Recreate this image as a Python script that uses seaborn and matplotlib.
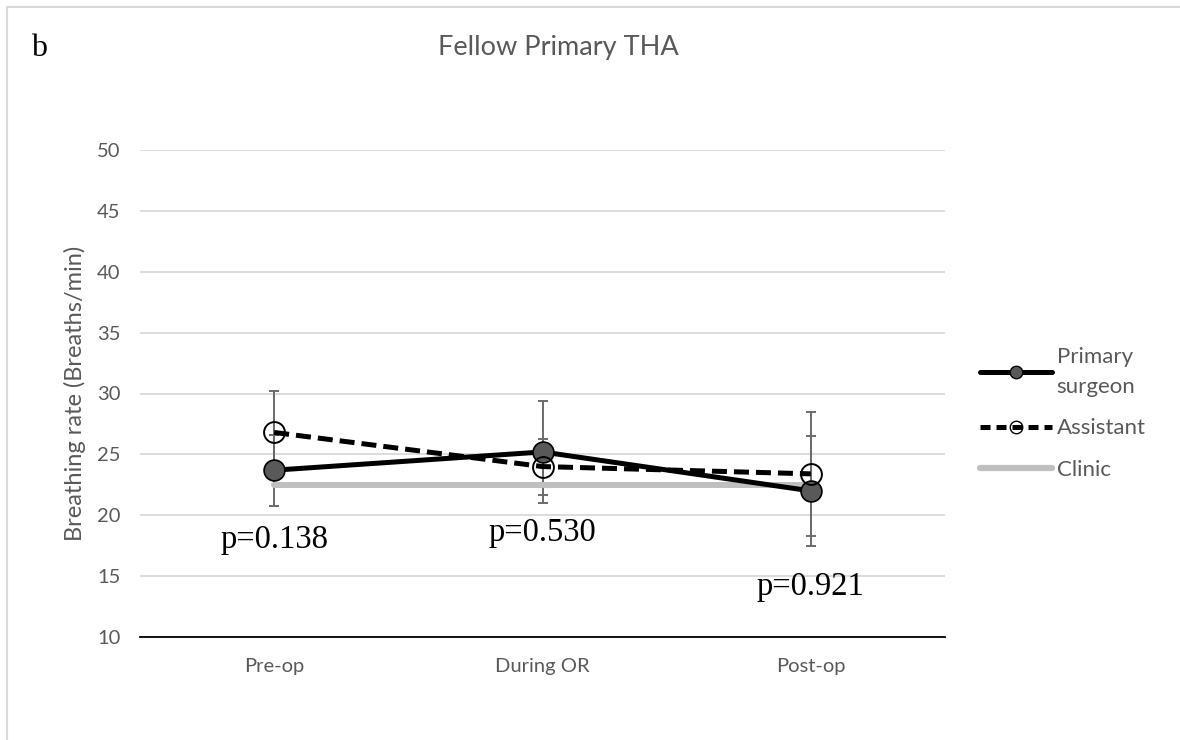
import numpy as np
import pandas as pd
import matplotlib
matplotlib.use('Agg')
import matplotlib.pyplot as plt
import seaborn as sns
from matplotlib.lines import Line2D

# values
phases = ['Pre-op', 'During OR', 'Post-op']
primary_mean = [23.7, 25.2, 22.0]
primary_err = [2.9, 4.2, 4.5]
assistant_mean = [26.8, 24.0, 23.4]
assistant_err = [3.4, 2.3, 5.1]
clinic_mean = [22.5, 22.5, 22.5]
p_labels = ['p=0.138', 'p=0.530', 'p=0.921']
p_y = [17.95, 18.6, 14.1]

grey_txt = '#595959'

sns.set_theme(style='white')
plt.rcParams['font.family'] = ['Lato', 'DejaVu Sans']

df = pd.DataFrame({'phase': phases * 3,
                   'value': primary_mean + assistant_mean + clinic_mean,
                   'series': ['Primary surgeon'] * 3 + ['Assistant'] * 3 + ['Clinic'] * 3})

fig = plt.figure(figsize=(11.8, 7.4), dpi=100)
ax = fig.add_axes([140 / 1180, 1 - 637 / 740, 805 / 1180, 487 / 740])

x = np.arange(len(phases))
# error bars
ax.errorbar(x, primary_mean, yerr=primary_err, fmt='none', ecolor='#6b6b6b',
            elinewidth=1.4, capsize=3.8, capthick=1.4, zorder=2)
ax.errorbar(x, assistant_mean, yerr=assistant_err, fmt='none', ecolor='#6b6b6b',
            elinewidth=1.4, capsize=3.8, capthick=1.4, zorder=2)

sns.lineplot(data=df[df.series == 'Primary surgeon'], x='phase', y='value', ax=ax,
             color='black', lw=3.6, marker='o', markersize=15, markerfacecolor='#595959',
             markeredgecolor='black', markeredgewidth=1.2, zorder=4)
sns.lineplot(data=df[df.series == 'Clinic'], x='phase', y='value', ax=ax,
             color='#bfbfbf', lw=4.3, zorder=3.5)
sns.lineplot(data=df[df.series == 'Assistant'], x='phase', y='value', ax=ax,
             color='black', lw=3.6, dashes=(3, 1.4), marker='o', markersize=15,
             markerfacecolor='none', markeredgecolor='black', markeredgewidth=1.4, zorder=5)

for i, t in enumerate(p_labels):
    ax.text(x[i], p_y[i], t, ha='center', va='center', fontsize=23.5,
            family='Liberation Serif', color='black', zorder=6)

ax.set_xlim(-0.5, 2.5)
ax.set_ylim(10, 50)
ax.set_yticks(range(10, 51, 5))
ax.set_xticks(x)
ax.set_xticklabels(phases)
ax.yaxis.grid(True, color='#d9d9d9', lw=1.3)
ax.set_axisbelow(True)
for s in ['top', 'right', 'left']:
    ax.spines[s].set_visible(False)
ax.spines['bottom'].set_color('black')
ax.spines['bottom'].set_linewidth(1.3)
ax.tick_params(axis='both', length=0, labelsize=14.5, colors=grey_txt)
ax.tick_params(axis='x', pad=15)
ax.tick_params(axis='y', pad=14)
ax.set_xlabel('')
ax.set_ylabel('Breathing rate (Breaths/min)', fontsize=17, color=grey_txt, labelpad=8)

fig.text(558 / 1180, 1 - 48 / 740, 'Fellow Primary THA', ha='center', va='center',
         fontsize=19.5, color=grey_txt)
fig.text(39 / 1180, 1 - 48 / 740, 'b', ha='center', va='center', fontsize=23,
         family='Liberation Serif', color='black')

handles = [Line2D([], [], color='black', lw=3.6, marker='o', ms=9, mfc='#595959', mec='black'),
           Line2D([], [], color='black', lw=3.6, dashes=(2, 1.2), marker='o', ms=9, mfc='none', mec='black'),
           Line2D([], [], color='#bfbfbf', lw=4.5)]
leg = fig.legend(handles, ['Primary\nsurgeon', 'Assistant', 'Clinic'], loc='upper left',
                 bbox_to_anchor=(960 / 1180, 1 - 327 / 740), frameon=False, fontsize=16,
                 handlelength=3.25, handletextpad=0.2, labelspacing=0.98)
for t in leg.get_texts():
    t.set_color(grey_txt)
    t.set_linespacing(1.6)

# chart border
fig.add_artist(Line2D([7 / 1180, 1], [1 - 7 / 740, 1 - 7 / 740], color='#d9d9d9', lw=1.5))
fig.add_artist(Line2D([7 / 1180, 7 / 1180], [0, 1 - 7 / 740], color='#d9d9d9', lw=1.5))

fig.savefig('out.png', dpi=100)
